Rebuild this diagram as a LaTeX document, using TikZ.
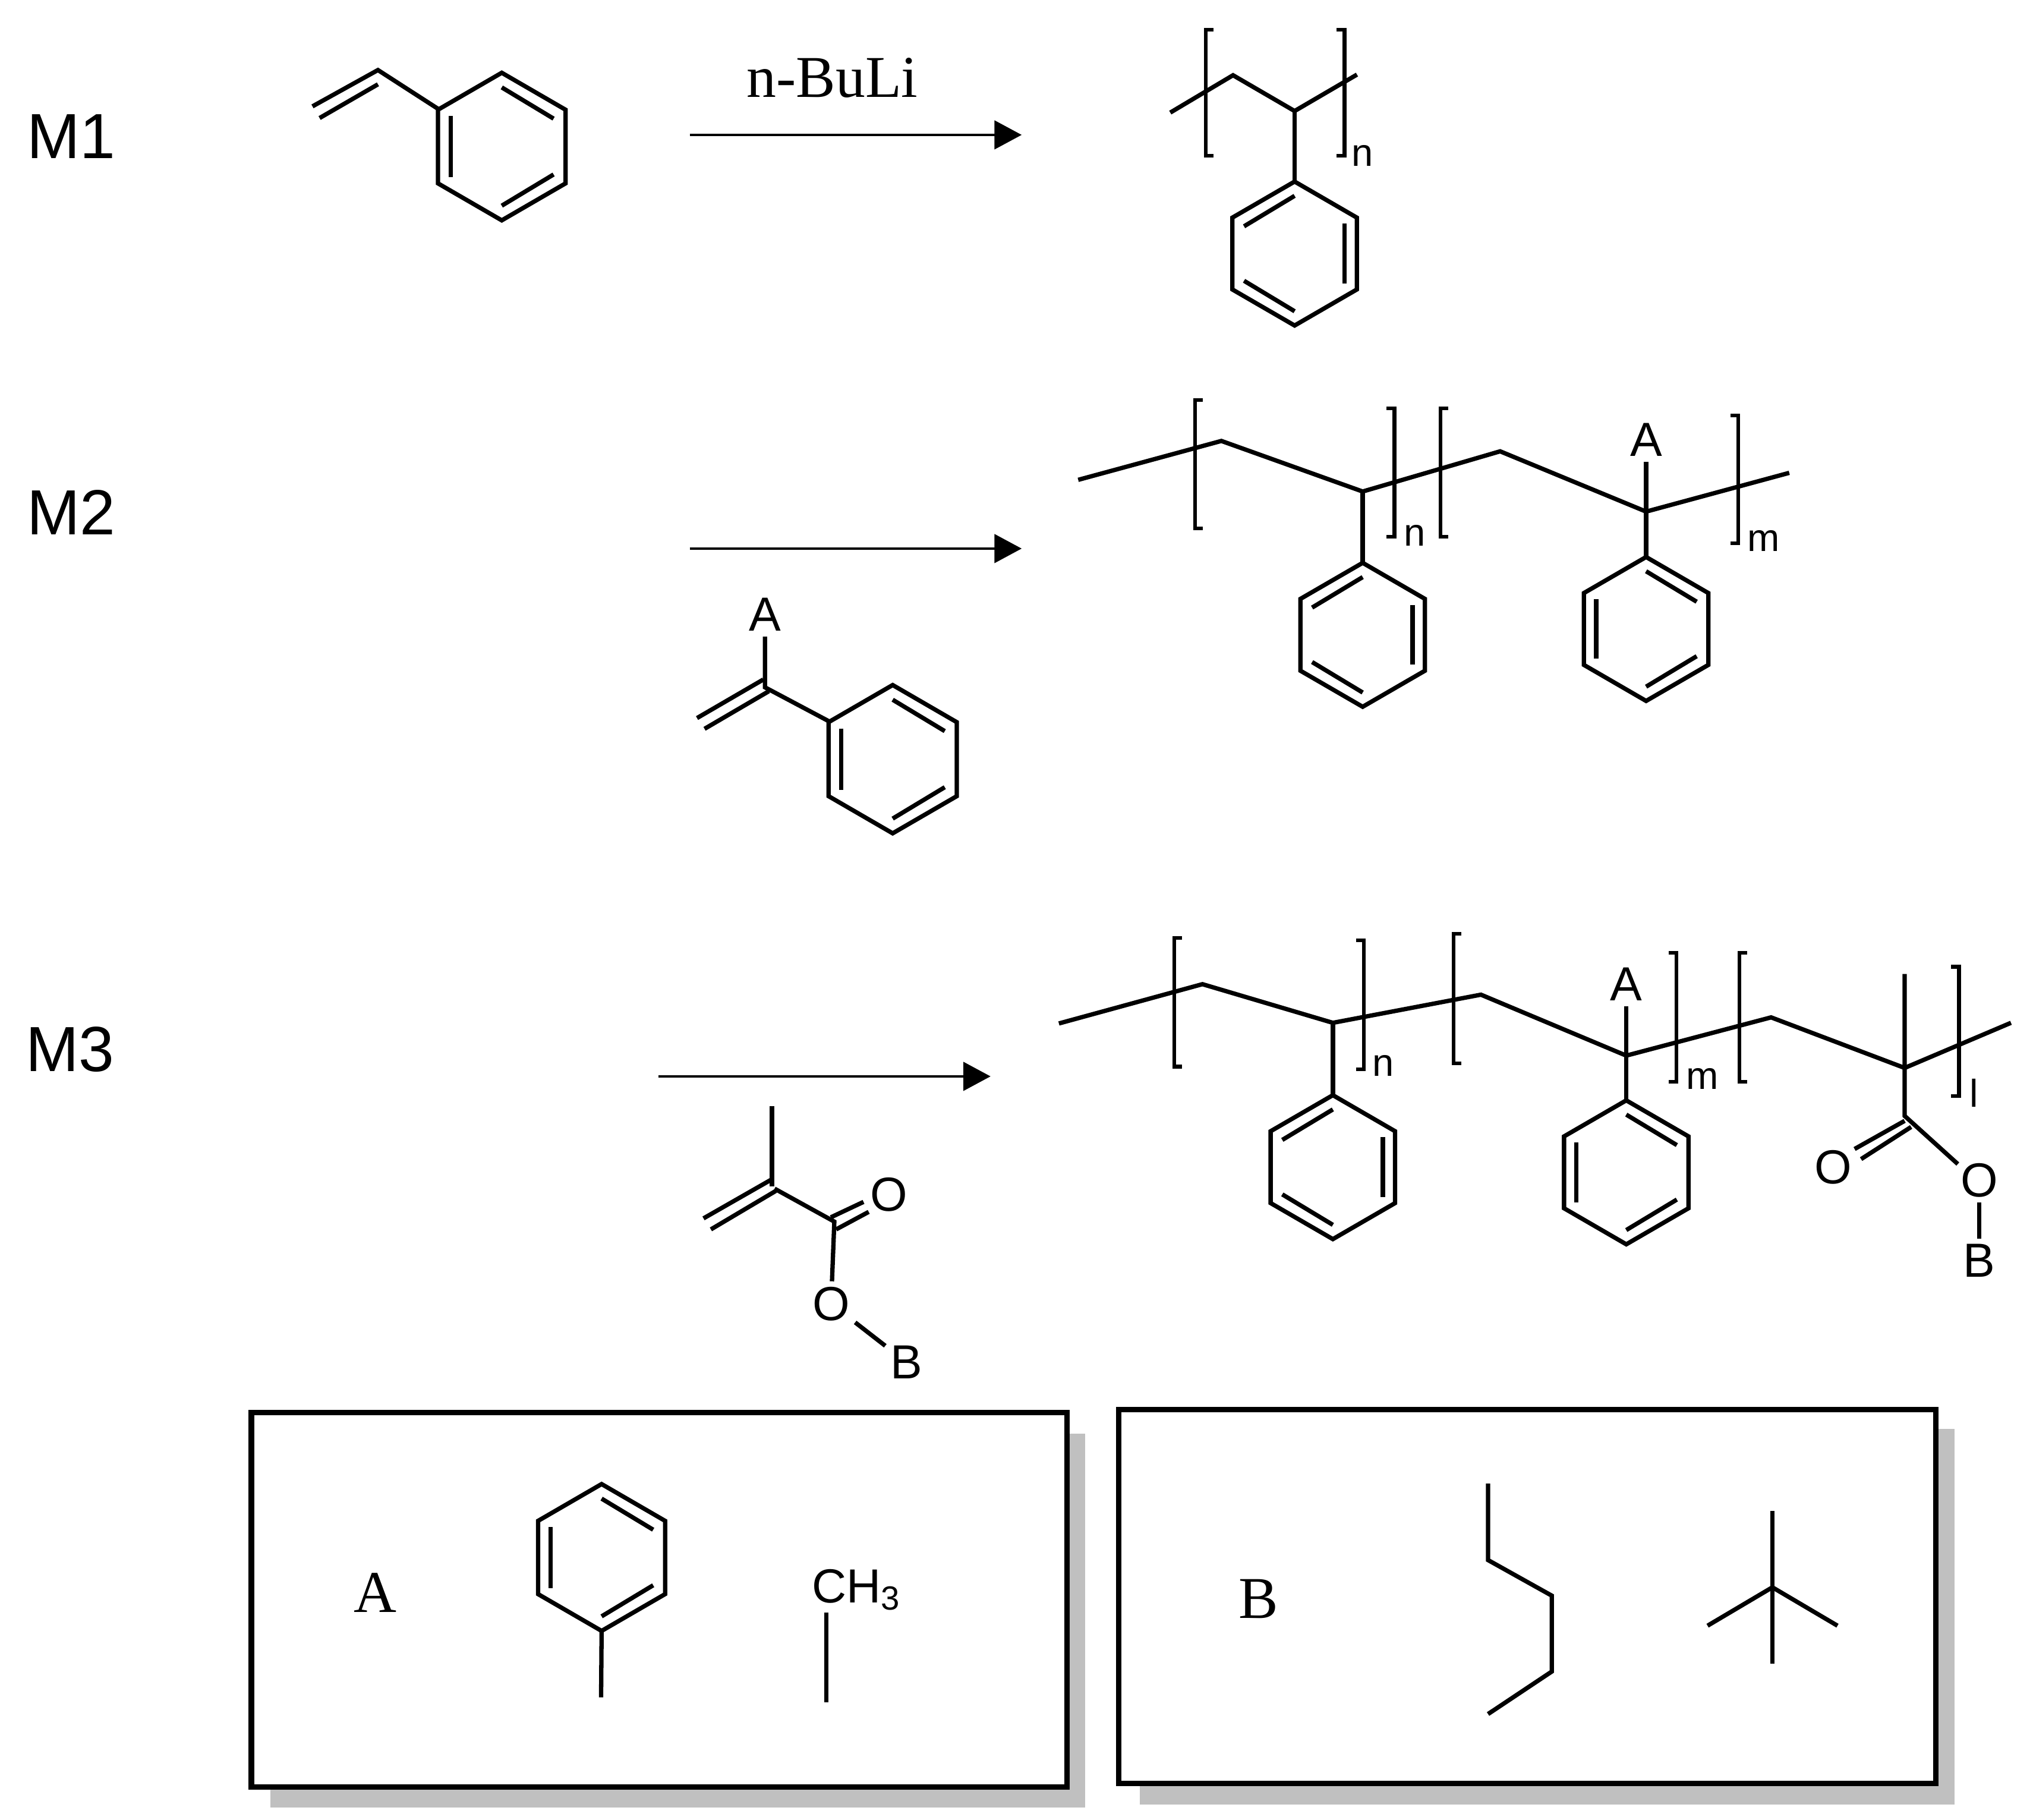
\documentclass[tikz,border=0pt]{standalone}
\usepackage{fontspec}
\setmainfont{Liberation Sans}
\newfontfamily\serifname{Liberation Serif}
\usetikzlibrary{arrows.meta}

\definecolor{shadowgray}{HTML}{C0C0C0}

\tikzset{
  bond/.style={line width=0.95pt,line join=miter},
  bracket/.style={line width=0.8pt},
  panel/.style={line width=1.2pt,fill=white},
  panelshadow/.style={fill=shadowgray},
  reaction/.style={line width=0.6pt,-{Triangle[length=2.1mm,width=2.2mm]}},
  atom/.style={font=\fontsize{10.5}{12}\selectfont,inner sep=0pt,outer sep=1.2pt},
  idx/.style={font=\fontsize{8.5}{10}\selectfont,inner sep=0pt},
  series/.style={font=\fontsize{14}{16}\selectfont,inner sep=0pt},
  serifbig/.style={font=\serifname\fontsize{13}{15}\selectfont,inner sep=0pt},
  phenyl/.pic={
    \coordinate (-top) at (0,-55.5);
    \coordinate (-bot) at (0,55.5);
    \draw[bond] (-top) -- (48,-27.7) -- (48,27.7) -- (-bot)
      -- (-48,27.7) -- (-48,-27.7) -- cycle;
    \draw[bond] (-38.5,-23) -- (-38.5,23);
    \draw[bond] (0,-44.5) -- (39,-21);
    \draw[bond] (0,44.5) -- (39,21);
  }
}

\newcommand{\brk}[4]{\draw[bracket] ({#1+#4*6},#2) -- (#1,#2) -- (#1,#3) -- ({#1+#4*6},#3);}

\begin{document}
\begin{tikzpicture}[x=0.1mm,y=-0.1mm]
  \useasboundingbox (0,0) rectangle (1568,1403);

  \node[series] (m1) at (55,105) {M1};
  \node[series] (m2) at (55,395) {M2};
  \node[series] (m3) at (54,809) {M3};

  % styrene
  \pic[scale=1.025] (sr) at (387,113) {phenyl};
  \coordinate (sa) at (338,84);
  \coordinate (sb) at (291.5,54);
  \coordinate (sc) at (241,82);
  \coordinate (sd) at (291.5,65);
  \coordinate (se) at (246.5,91);
  \draw[bond] (sc) -- (sb) -- (sa);
  \draw[bond] (sd) -- (se);

  % arrows
  \coordinate (a1s) at (532,104);
  \coordinate (a1e) at (788,104);
  \coordinate (a2s) at (532,423);
  \coordinate (a2e) at (788,423);
  \coordinate (a3s) at (508,830);
  \coordinate (a3e) at (764,830);
  \draw[reaction] (a1s) -- (a1e);
  \draw[reaction] (a2s) -- (a2e);
  \draw[reaction] (a3s) -- (a3e);
  \node[serifbig] (buli) at (642,60) {n-BuLi};

  % polymer of M1
  \coordinate (pa) at (902.6,86.8);
  \coordinate (pb) at (951,58);
  \coordinate (pc) at (998.5,85.6);
  \coordinate (pd) at (1046.6,57.5);
  \pic[xscale=-1] (pr) at (998.5,195.5) {phenyl};
  \draw[bond] (pa) -- (pb) -- (pc) -- (pd);
  \draw[bond] (pc) -- (pr-top);
  \brk{930}{23}{120}{1}
  \brk{1037}{23}{120}{-1}
  \node[idx] (pn) at (1051,120) {n};

  % monomer with A
  \node[atom] (qa) at (590,474) {A};
  \coordinate (qb) at (590,530);
  \coordinate (qc) at (588.7,524);
  \coordinate (qd) at (537.6,553.7);
  \coordinate (qe) at (593,533);
  \coordinate (qf) at (543.4,562);
  \coordinate (qg) at (639,556);
  \pic[scale=1.03] (qr) at (688.5,585.4) {phenyl};
  \draw[bond] (qa) -- (qb) -- (qg);
  \draw[bond] (qc) -- (qd);
  \draw[bond] (qe) -- (qf);

  % polymer of M2
  \coordinate (ra) at (831.6,370);
  \coordinate (rb) at (942,340);
  \coordinate (rc) at (1051,379);
  \coordinate (rd) at (1157,348);
  \coordinate (re) at (1269.6,394.5);
  \coordinate (rf) at (1380,364.6);
  \pic[xscale=-1] (rr) at (1051,489.5) {phenyl};
  \pic (rt) at (1269.6,485) {phenyl};
  \node[atom] (ru) at (1269.6,339) {A};
  \draw[bond] (ra) -- (rb) -- (rc) -- (rd) -- (re) -- (rf);
  \draw[bond] (rc) -- (rr-top);
  \draw[bond] (ru) -- (re) -- (rt-top);
  \brk{921.6}{308.5}{407.6}{1}
  \brk{1075.5}{315}{414}{-1}
  \brk{1111}{315}{414}{1}
  \brk{1340.6}{320.5}{419}{-1}
  \node[idx] (rn) at (1091,413) {n};
  \node[idx] (rm) at (1360,417) {m};

  % monomer with B
  \coordinate (ua) at (595.4,852.8);
  \coordinate (ub) at (595.4,915);
  \coordinate (uc) at (594.4,909.9);
  \coordinate (ud) at (542.6,939.5);
  \coordinate (ue) at (598.4,918.3);
  \coordinate (uf) at (548.3,948);
  \coordinate (ug) at (597.4,916.6);
  \coordinate (uh) at (643.5,942);
  \coordinate (ui) at (640.8,938.7);
  \coordinate (uj) at (666,926.8);
  \coordinate (uk) at (644.9,948);
  \coordinate (ul) at (670,934.5);
  \node[atom] (uo) at (685.8,921.2) {O};
  \node[atom] (up) at (641,1005.3) {O};
  \node[atom] (uq) at (699.3,1050.6) {B};
  \draw[bond] (ua) -- (ub);
  \draw[bond] (uc) -- (ud);
  \draw[bond] (ue) -- (uf);
  \draw[bond] (ug) -- (uh) -- (up);
  \draw[bond] (ui) -- (uj);
  \draw[bond] (uk) -- (ul);
  \draw[bond] (up) -- (uq);

  % polymer of M3
  \coordinate (va) at (816.7,789.2);
  \coordinate (vb) at (927.4,758.9);
  \coordinate (vc) at (1028,788.7);
  \coordinate (vd) at (1142.2,767);
  \coordinate (ve) at (1254.3,814);
  \coordinate (vf) at (1366,784.5);
  \coordinate (vg) at (1469,823.5);
  \coordinate (vh) at (1551,788.7);
  \coordinate (vi) at (1469,751);
  \coordinate (vj) at (1469,860.5);
  \coordinate (vk) at (1469,864.3);
  \coordinate (vl) at (1430.4,886);
  \coordinate (vm) at (1474,869);
  \coordinate (vo) at (1435.4,893.8);
  \coordinate (vp) at (1510,897.6);
  \pic[xscale=-1] (vr) at (1028,900) {phenyl};
  \pic (vs) at (1254.3,904) {phenyl};
  \node[atom] (vt) at (1254.3,759) {A};
  \node[atom] (vu) at (1414,900) {O};
  \node[atom] (vv) at (1526.5,910) {O};
  \node[atom] (vw) at (1526.5,972) {B};
  \draw[bond] (va) -- (vb) -- (vc) -- (vd) -- (ve) -- (vf) -- (vg) -- (vh);
  \draw[bond] (vc) -- (vr-top);
  \draw[bond] (vt) -- (ve) -- (vs-top);
  \draw[bond] (vi) -- (vj) -- (vp);
  \draw[bond] (vk) -- (vl);
  \draw[bond] (vm) -- (vo);
  \draw[bond] (vv) -- (vw);
  \brk{905.8}{723.3}{822.5}{1}
  \brk{1052}{725}{824.4}{-1}
  \brk{1121}{720}{820}{1}
  \brk{1293}{734.7}{834}{-1}
  \brk{1341.4}{734.7}{834}{1}
  \brk{1510.9}{745.5}{845}{-1}
  \node[idx] (vx) at (1066.7,822) {n};
  \node[idx] (vy) at (1313,832) {m};
  \node[idx] (vz) at (1522.5,843) {l};

  % box A
  \fill[panelshadow] (208.4,1105.7) rectangle (837,1393.7);
  \draw[panel] (193.9,1089.3) rectangle (823,1378);
  \node[serifbig] (boxa) at (289.5,1228) {A};
  \pic[scale=1.02] (ba) at (464,1201) {phenyl};
  \coordinate (bb) at (463.6,1308.8);
  \draw[bond] (ba-bot) -- (bb);
  \node[atom,anchor=base west] (bc) at (622,1235.7) {CH\textsubscript{3}};
  \coordinate (bd) at (637.3,1243.5);
  \coordinate (be) at (637.3,1312.6);
  \draw[bond] (bd) -- (be);

  % box B
  \fill[panelshadow] (879,1102) rectangle (1507.7,1391.6);
  \draw[panel] (863,1087) rectangle (1493,1375.4);
  \node[serifbig] (boxb) at (970.5,1233) {B};
  \coordinate (ca) at (1147.7,1144);
  \coordinate (cb) at (1147.7,1203);
  \coordinate (cc) at (1196.8,1230.4);
  \coordinate (cd) at (1196.8,1289);
  \coordinate (ce) at (1147.7,1321.7);
  \draw[bond] (ca) -- (cb) -- (cc) -- (cd) -- (ce);
  \coordinate (da) at (1367,1165);
  \coordinate (db) at (1367,1283);
  \coordinate (dc) at (1367,1224);
  \coordinate (dd) at (1317,1253.6);
  \coordinate (de) at (1417.2,1253.6);
  \draw[bond] (da) -- (db);
  \draw[bond] (dd) -- (dc) -- (de);
\end{tikzpicture}
\end{document}
